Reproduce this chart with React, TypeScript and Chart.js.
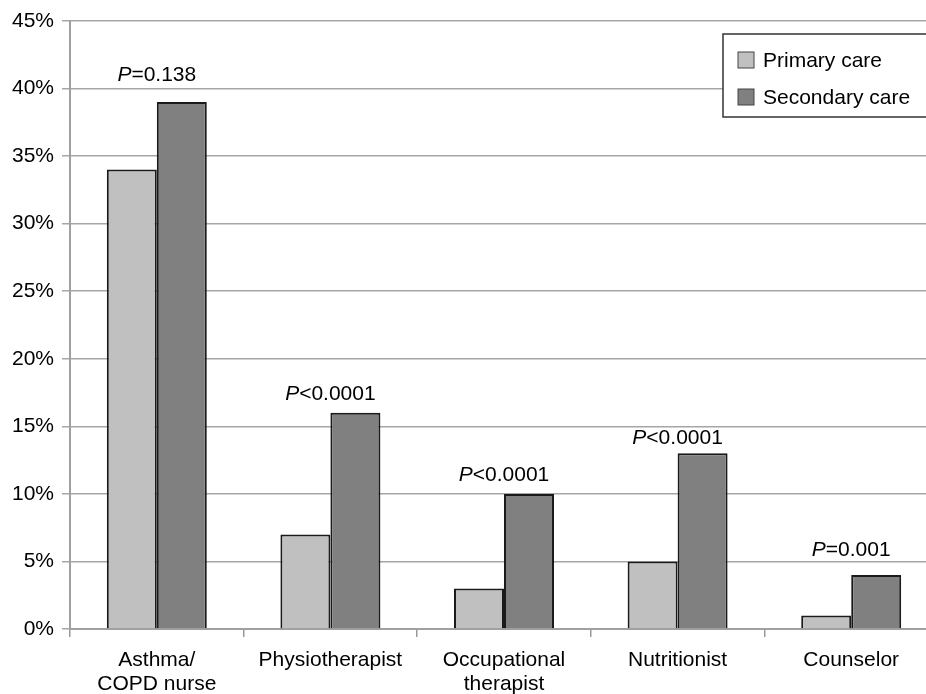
import React, { useEffect, useRef } from "react";
import { Chart, registerables } from "chart.js";

Chart.register(...registerables);

const categories: (string | string[])[] = [
  ["Asthma/", "COPD nurse"],
  "Physiotherapist",
  ["Occupational", "therapist"],
  "Nutritionist",
  "Counselor",
];
const primaryCare = [34, 7, 3, 5, 1];
const secondaryCare = [39, 16, 10, 13, 4];
const pSymbols = ["=", "<", "<", "<", "="];
const pValues = ["0.138", "0.0001", "0.0001", "0.0001", "0.001"];
const pLabelLevels = [41.0, 17.4, 11.4, 14.1, 5.85];
const yTicks = [0, 5, 10, 15, 20, 25, 30, 35, 40, 45];

const FONT = "'Liberation Sans', Arial, sans-serif";
const FS = 21;

const annotationPlugin = {
  id: "pvalues",
  afterDatasetsDraw(chart: any) {
    const { ctx, scales } = chart;
    const xs = scales.x;
    const ys = scales.y;
    ctx.save();
    ctx.fillStyle = "#000";
    ctx.textBaseline = "middle";
    ctx.textAlign = "left";
    for (let i = 0; i < categories.length; i++) {
      const cx = xs.getPixelForValue(i);
      const cy = ys.getPixelForValue(pLabelLevels[i]);
      const rest = pSymbols[i] + pValues[i];
      ctx.font = `italic ${FS}px ${FONT}`;
      const wP = ctx.measureText("P").width;
      ctx.font = `${FS}px ${FONT}`;
      const wR = ctx.measureText(rest).width;
      const x0 = cx - (wP + wR) / 2;
      ctx.font = `italic ${FS}px ${FONT}`;
      ctx.fillText("P", x0, cy);
      ctx.font = `${FS}px ${FONT}`;
      ctx.fillText(rest, x0 + wP, cy);
    }
    ctx.restore();
  },
};

const legendPlugin = {
  id: "boxLegend",
  afterDraw(chart: any) {
    const { ctx, chartArea } = chart;
    const bx = chartArea.left + 653;
    const by = chartArea.top + 13;
    const bw = 240;
    const bh = 83;
    ctx.save();
    ctx.fillStyle = "#fff";
    ctx.fillRect(bx, by, bw, bh);
    ctx.strokeStyle = "#333";
    ctx.lineWidth = 1.5;
    ctx.strokeRect(bx, by, bw, bh);
    const items = [
      { label: "Primary care", color: "#c0c0c0" },
      { label: "Secondary care", color: "#808080" },
    ];
    items.forEach((it, k) => {
      const cy = by + 26 + k * 37;
      ctx.fillStyle = it.color;
      ctx.fillRect(bx + 15, cy - 8, 16, 16);
      ctx.strokeStyle = "#444";
      ctx.lineWidth = 1;
      ctx.strokeRect(bx + 15, cy - 8, 16, 16);
      ctx.fillStyle = "#000";
      ctx.font = `${FS}px ${FONT}`;
      ctx.textBaseline = "middle";
      ctx.textAlign = "left";
      ctx.fillText(it.label, bx + 40, cy + 1);
    });
    ctx.restore();
  },
};

export default function App() {
  const ref = useRef<HTMLCanvasElement | null>(null);
  useEffect(() => {
    if (!ref.current) return;
    const chart = new Chart(ref.current, {
      type: "bar",
      data: {
        labels: categories as any,
        datasets: [
          {
            label: "Primary care",
            data: primaryCare,
            backgroundColor: "#c0c0c0",
            borderColor: "#1a1a1a",
            borderWidth: 2,
            categoryPercentage: 0.576,
            barPercentage: 1,
          },
          {
            label: "Secondary care",
            data: secondaryCare,
            backgroundColor: "#808080",
            borderColor: "#1a1a1a",
            borderWidth: 2,
            categoryPercentage: 0.576,
            barPercentage: 1,
          },
        ],
      },
      options: {
        animation: false,
        responsive: false,
        maintainAspectRatio: false,
        layout: { padding: { top: 21, right: 2, left: 0, bottom: 0 } },
        plugins: {
          legend: { display: false },
          tooltip: { enabled: false },
        },
        scales: {
          x: {
            grid: {
              drawOnChartArea: false,
              drawTicks: true,
              tickLength: 8,
              color: "#999",
              lineWidth: 1.5,
              offset: true,
            },
            border: { color: "#a0a0a0", width: 2 },
            ticks: {
              color: "#000",
              font: { family: FONT, size: FS, lineHeight: 1.14 },
              padding: 11,
              maxRotation: 0,
              autoSkip: false,
            },
            afterFit(scale: any) {
              scale.height = 65;
            },
          },
          y: {
            min: 0,
            max: 45,
            afterBuildTicks(scale: any) {
              scale.ticks = yTicks.map((v) => ({ value: v }));
            },
            grid: {
              color: "#a6a6a6",
              lineWidth: 1.5,
              tickLength: 8,
            },
            border: { color: "#a0a0a0", width: 2 },
            ticks: {
              color: "#000",
              font: { family: FONT, size: FS },
              padding: 8,
              callback: (v: any) => v + "%",
            },
            afterFit(scale: any) {
              scale.width = 70;
            },
          },
        },
      },
      plugins: [annotationPlugin, legendPlugin],
    });
    return () => chart.destroy();
  }, []);
  return (
    <div
      style={{
        position: "fixed",
        left: 0,
        top: 0,
        width: 926,
        height: 694,
        overflow: "hidden",
        background: "#fff",
      }}
    >
      <canvas ref={ref} width={940} height={694} style={{ display: "block" }} />
    </div>
  );
}
